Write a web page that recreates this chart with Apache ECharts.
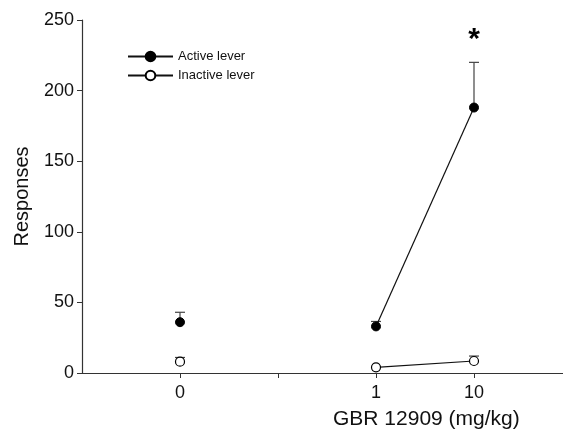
<!DOCTYPE html>
<html>
<head>
<meta charset="utf-8">
<script src="https://cdn.jsdelivr.net/npm/echarts@6/dist/echarts.min.js"></script>
<style>
  html, body { margin: 0; padding: 0; background: #fff; }
  #chart { width: 563px; height: 431px; }
</style>
</head>
<body>
<div id="chart"></div>
<script>
// x slots: an empty slot on each end and a gap (axis break) between 0 and 1
var tickLabels = ['', '0', '', '1', '10', ''];
var doses = ['0', '1', '10'];
var doseSlot = [1, 3, 4];

var activeMean = [36, 33, 188];
var activeSem = [7, 3.5, 32];
var inactiveMean = [8, 4, 8.5];
var inactiveSem = [3, 0, 3.5];

var FONT = 'Liberation Sans, Arial, sans-serif';

function lineData(mean) {
    var arr = tickLabels.map(function () { return '-'; });
    doses.forEach(function (d, i) { arr[doseSlot[i]] = mean[i]; });
    return arr;
}

function errData(mean, sem) {
    return doses.map(function (d, i) {
        return [doseSlot[i], mean[i], mean[i] + sem[i]];
    });
}

function renderErr(params, api) {
    var x = api.value(0);
    var lo = api.coord([x, api.value(1)]);
    var hi = api.coord([x, api.value(2)]);
    if (hi[1] >= lo[1] - 0.5) return null;
    var half = 5;
    var st = { stroke: '#444', lineWidth: 1.2 };
    return {
        type: 'group',
        children: [
            { type: 'line', shape: { x1: lo[0], y1: lo[1], x2: hi[0], y2: hi[1] }, style: st },
            { type: 'line', shape: { x1: hi[0] - half, y1: hi[1], x2: hi[0] + half, y2: hi[1] }, style: st }
        ]
    };
}

var myChart = echarts.init(document.getElementById('chart'));

var option = {
    animation: false,
    textStyle: { fontFamily: FONT },
    title: {
        text: 'GBR 12909 (mg/kg)',
        left: 333,
        top: 409,
        padding: 0,
        textStyle: { fontFamily: FONT, fontSize: 21, fontWeight: 'normal', color: '#111' }
    },
    legend: {
        orient: 'vertical',
        left: 122,
        top: 45,
        itemWidth: 45,
        itemHeight: 12,
        itemGap: 6,
        data: ['Active lever', 'Inactive lever'],
        textStyle: { fontFamily: FONT, fontSize: 13, color: '#111' }
    },
    grid: { left: 82, top: 20, bottom: 58, width: 490, outerBoundsMode: 'none', containLabel: false },
    xAxis: {
        type: 'category',
        data: tickLabels,
        boundaryGap: false,
        axisLine: { lineStyle: { color: '#333', width: 1.2 } },
        axisTick: {
            length: 5,
            interval: function (i) { return i >= 1 && i <= 4; },
            lineStyle: { color: '#333' }
        },
        axisLabel: { interval: 0, fontSize: 18, color: '#111', margin: 11, fontFamily: FONT },
        splitLine: { show: false }
    },
    yAxis: {
        type: 'value',
        min: 0,
        max: 250,
        interval: 50,
        name: 'Responses',
        nameLocation: 'middle',
        nameGap: 50,
        nameTextStyle: { fontSize: 20, color: '#111', fontFamily: FONT },
        axisLine: { show: true, lineStyle: { color: '#333', width: 1.2 } },
        axisTick: { show: true, length: 5, lineStyle: { color: '#333' } },
        axisLabel: { fontSize: 18, color: '#111', margin: 8, fontFamily: FONT },
        splitLine: { show: false }
    },
    series: [
        {
            type: 'custom',
            name: 'active err',
            renderItem: renderErr,
            data: errData(activeMean, activeSem),
            encode: { x: 0, y: [1, 2] },
            z: 1
        },
        {
            type: 'custom',
            name: 'inactive err',
            renderItem: renderErr,
            data: errData(inactiveMean, inactiveSem),
            encode: { x: 0, y: [1, 2] },
            z: 1
        },
        {
            name: 'Active lever',
            type: 'line',
            data: lineData(activeMean),
            symbol: 'circle',
            symbolSize: 9,
            showAllSymbol: true,
            lineStyle: { color: '#111', width: 1.2 },
            itemStyle: { color: '#000', borderColor: '#000', borderWidth: 1 },
            z: 3,
            markPoint: {
                symbol: 'circle',
                symbolSize: 0,
                data: [{ coord: [4, 236], value: '*' }],
                label: { show: true, formatter: '*', fontSize: 30, fontWeight: 'bold', color: '#000', fontFamily: FONT }
            }
        },
        {
            name: 'Inactive lever',
            type: 'line',
            data: lineData(inactiveMean),
            symbol: 'circle',
            symbolSize: 9,
            showAllSymbol: true,
            lineStyle: { color: '#111', width: 1.2 },
            itemStyle: { color: '#fff', borderColor: '#000', borderWidth: 1.2 },
            z: 3
        }
    ]
};

myChart.setOption(option);
</script>
</body>
</html>
